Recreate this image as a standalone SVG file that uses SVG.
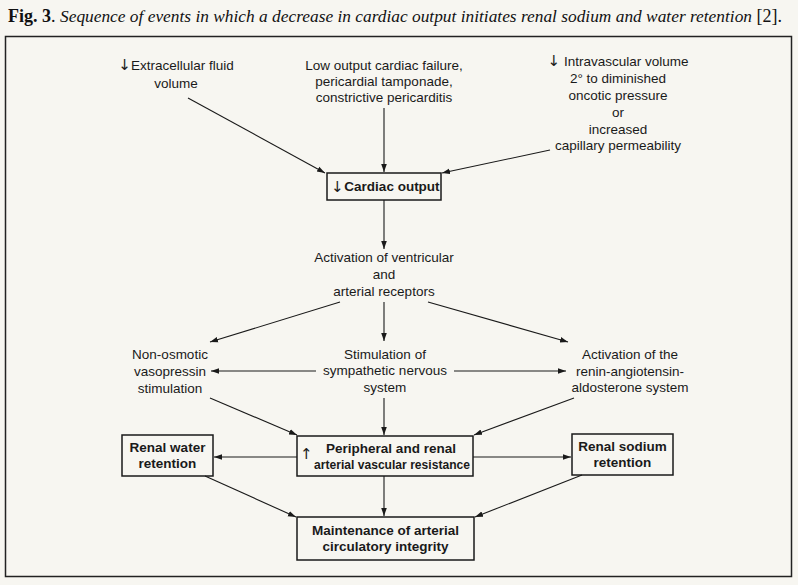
<svg xmlns="http://www.w3.org/2000/svg" width="798" height="585" viewBox="0 0 798 585">
<defs>
<marker id="ah" viewBox="0 0 10 10" refX="10" refY="5" markerWidth="8" markerHeight="8" markerUnits="userSpaceOnUse" orient="auto">
<path d="M0,1.5 L10,5 L0,8.5 Z" fill="#1a1a1a"/>
</marker>
</defs>
<style>
.t{font-family:"Liberation Sans",Arial,sans-serif;font-size:13.5px;fill:#1a1a1a;text-anchor:middle}
.b{font-weight:bold}
.ar{font-family:"DejaVu Sans",sans-serif;font-size:15px;fill:#1a1a1a;font-weight:normal}
.box{fill:none;stroke:#1a1a1a;stroke-width:1.5}
.c line{stroke:#1a1a1a;stroke-width:1.1;marker-end:url(#ah)}
</style>
<rect width="798" height="585" fill="#f7f6f1"/>
<text x="8" y="22" font-family="Liberation Serif,serif" font-size="18" fill="#111"><tspan font-weight="bold">Fig. 3</tspan><tspan>. </tspan><tspan font-style="italic" font-size="17" textLength="692" lengthAdjust="spacingAndGlyphs">Sequence of events in which a decrease in cardiac output initiates renal sodium and water retention</tspan><tspan> [2].</tspan></text>
<rect x="5.5" y="36.5" width="786" height="540" fill="none" stroke="#222" stroke-width="1.5"/>

<g id="ecf"><text class="t" x="176" y="70"><tspan class="ar" font-size="13">↓</tspan>Extracellular fluid</text><text class="t" x="176" y="88">volume</text></g>
<g id="low"><text class="t" x="384" y="70">Low output cardiac failure,</text><text class="t" x="384" y="86">pericardial tamponade,</text><text class="t" x="384" y="102">constrictive pericarditis</text></g>
<g id="ivv"><text class="t" x="618" y="66"><tspan class="ar" font-size="13">↓</tspan> Intravascular volume</text><text class="t" x="618" y="83">2° to diminished</text><text class="t" x="618" y="100">oncotic pressure</text><text class="t" x="618" y="117">or</text><text class="t" x="618" y="134">increased</text><text class="t" x="618" y="150">capillary permeability</text></g>
<g id="co"><rect class="box" x="327" y="173" width="114" height="27"/><text class="ar" x="331" y="192">↓</text><text class="t b" x="392" y="191">Cardiac output</text></g>
<g id="avr"><text class="t" x="384" y="262">Activation of ventricular</text><text class="t" x="384" y="279">and</text><text class="t" x="384" y="296">arterial receptors</text></g>
<g id="nov"><text class="t" x="170" y="359">Non-osmotic</text><text class="t" x="170" y="376">vasopressin</text><text class="t" x="170" y="393">stimulation</text></g>
<g id="sns"><text class="t" x="385" y="359">Stimulation of</text><text class="t" x="385" y="375">sympathetic nervous</text><text class="t" x="385" y="392">system</text></g>
<g id="raas"><text class="t" x="630" y="359">Activation of the</text><text class="t" x="630" y="376">renin-angiotensin-</text><text class="t" x="630" y="392">aldosterone system</text></g>
<g id="rwr"><rect class="box" x="122" y="435" width="91" height="41"/><text class="t b" x="167.5" y="452">Renal water</text><text class="t b" x="167.5" y="468">retention</text></g>
<g id="pvr"><rect class="box" x="297" y="436" width="176" height="40"/><text class="ar" x="300" y="459">↑</text><text class="t b" x="391" y="453">Peripheral and renal</text><text class="t b" x="392" y="469" textLength="156" lengthAdjust="spacingAndGlyphs">arterial vascular resistance</text></g>
<g id="rsr"><rect class="box" x="572" y="434" width="101" height="41"/><text class="t b" x="622.5" y="451">Renal sodium</text><text class="t b" x="622.5" y="467">retention</text></g>
<g id="mac"><rect class="box" x="297" y="517" width="177" height="43"/><text class="t b" x="385.5" y="535">Maintenance of arterial</text><text class="t b" x="385.5" y="551">circulatory integrity</text></g>

<g class="c" id="connectors">
<line x1="188" y1="98" x2="325" y2="173"/>
<line x1="384" y1="108" x2="384" y2="172"/>
<line x1="550" y1="150" x2="442" y2="173"/>
<line x1="384" y1="200" x2="384" y2="249"/>
<line x1="340" y1="302" x2="210" y2="342"/>
<line x1="384" y1="302" x2="384" y2="341"/>
<line x1="428" y1="302" x2="568" y2="342"/>
<line x1="316" y1="371" x2="211" y2="371"/>
<line x1="454" y1="371" x2="566" y2="371"/>
<line x1="210" y1="398" x2="297" y2="435"/>
<line x1="384" y1="398" x2="384" y2="435"/>
<line x1="574" y1="398" x2="474" y2="435"/>
<line x1="297" y1="457" x2="214" y2="457"/>
<line x1="473" y1="457" x2="571" y2="457"/>
<line x1="205" y1="476" x2="296" y2="517"/>
<line x1="384" y1="476" x2="384" y2="516"/>
<line x1="582" y1="475" x2="475" y2="517"/>
</g>
</svg>
